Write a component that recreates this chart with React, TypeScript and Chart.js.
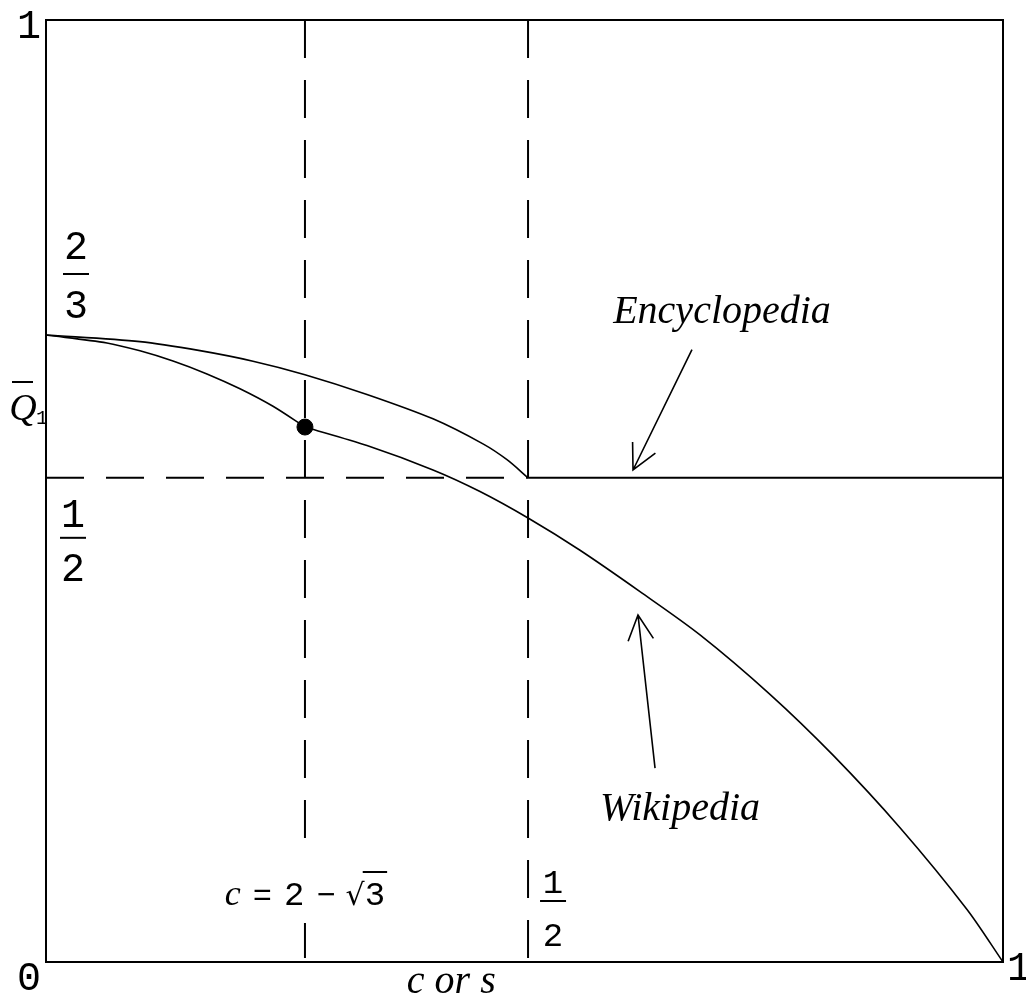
import { useEffect, useRef } from "react";
import { Chart, registerables } from "chart.js";

Chart.register(...registerables);

// ---- values (both axes run 0..1) ----
const cValue = 0.2706; // c = 2 - sqrt(3) marker line
const halfX = 0.5037; // x = 1/2 marker line
const halfY = 0.514; // y = 1/2 marker line
const dotY = 0.5679; // Wikipedia curve value at c

const encX = [0, 0.0982, 0.1609, 0.2163, 0.2706, 0.3354, 0.4044, 0.4566, 0.4817, 0.5037];
const encY = [0.6656, 0.6586, 0.649, 0.6378, 0.6235, 0.6025, 0.5766, 0.55, 0.5332, 0.514];
const encFlatX = [0.5037, 1];
const encFlatY = [0.514, 0.514];

const wikiLeftX = [0, 0.0637, 0.0982, 0.1327, 0.1682, 0.2027, 0.2372, 0.2706];
const wikiLeftY = [0.6656, 0.6572, 0.6488, 0.638, 0.6243, 0.6085, 0.5899, 0.5679];
const wikiRightX = [0.2706, 0.3354, 0.4044, 0.4535, 0.5037, 0.558, 0.6207, 0.6834, 0.7565, 0.8224, 0.8924, 0.9624, 1];
const wikiRightY = [0.5679, 0.5482, 0.5223, 0.4994, 0.4713, 0.4371, 0.3932, 0.3473, 0.2842, 0.2196, 0.1426, 0.0558, 0];

// annotation anchors (data units)
const seriesNames = ["Encyclopedia", "Wikipedia"];
const labelX = [0.7064, 0.6625];
const labelY = [0.6783, 0.1507];
const arrowTailX = [0.675, 0.6364];
const arrowTailY = [0.65, 0.2059];
const arrowHeadX = [0.6134, 0.6186];
const arrowHeadY = [0.5223, 0.3684];

// tick / axis labels
const cornerTicks = ["0", "1", "1"];
const fracTwoThirds = ["2", "3"];
const fracHalf = ["1", "2"];
const cLabelTokens = ["c", "=", "2", "\u2212", "\u221A", "3"];
const xAxisTitle = "c or s";
const yAxisTitle = "Q";
const yAxisSub = "1";

const DIGIT = "'Liberation Mono', 'DejaVu Sans Mono', monospace";
const ITAL = "italic 40px 'Liberation Serif', 'DejaVu Serif', serif";

const pts = (xs: number[], ys: number[]) => xs.map((x, i) => ({ x, y: ys[i] }));

const labelPlugin = {
  id: "labels",
  afterDatasetsDraw(chart: any) {
    const { ctx, chartArea } = chart;
    const sx = chart.scales.x;
    const sy = chart.scales.y;
    const { left, top, right, bottom } = chartArea;
    ctx.save();
    ctx.fillStyle = "#000";
    ctx.strokeStyle = "#000";

    // y axis title Q-bar with subscript
    ctx.font = "italic 38px 'Liberation Serif', serif";
    ctx.textAlign = "center";
    ctx.textBaseline = "alphabetic";
    ctx.fillText(yAxisTitle, left - 23, 420);
    ctx.lineWidth = 2;
    ctx.beginPath();
    ctx.moveTo(left - 34, 382);
    ctx.lineTo(left - 13, 382);
    ctx.stroke();
    ctx.font = "20px " + DIGIT;
    ctx.fillText(yAxisSub, left - 4, 424);

    // border
    ctx.lineWidth = 2;
    ctx.strokeRect(left, top, right - left, bottom - top);

    // corner ticks
    ctx.font = "40px " + DIGIT;
    ctx.textAlign = "center";
    ctx.textBaseline = "alphabetic";
    ctx.fillText(cornerTicks[0], left - 17, bottom + 28);
    ctx.fillText(cornerTicks[1], left - 17, top + 18);
    ctx.fillText(cornerTicks[2], right + 16, bottom + 18);

    const frac = (parts: string[], cx: number, bar: number, size: number, numOff: number, denOff: number, half: number) => {
      ctx.font = size + "px " + DIGIT;
      ctx.textAlign = "center";
      ctx.textBaseline = "alphabetic";
      ctx.fillText(parts[0], cx, bar - numOff);
      ctx.fillText(parts[1], cx, bar + denOff);
      ctx.lineWidth = 2;
      ctx.beginPath();
      ctx.moveTo(cx - half, bar);
      ctx.lineTo(cx + half, bar);
      ctx.stroke();
    };
    const yTwoThirds = sy.getPixelForValue(encY[0]);
    frac(fracTwoThirds, left + 30, yTwoThirds - 61, 40, 15, 44, 13);
    const yHalf = sy.getPixelForValue(halfY);
    frac(fracHalf, left + 27, yHalf + 60, 40, 11, 43, 13);
    const xHalf = sx.getPixelForValue(halfX);
    frac(fracHalf, xHalf + 25, bottom - 61, 34, 8, 45, 13);

    // c = 2 - sqrt3 label with white background
    const cx = sx.getPixelForValue(cValue);
    const base = bottom - 57;
    ctx.fillStyle = "#fff";
    ctx.fillRect(cx - 4, bottom - 109, 8, 70);
    ctx.fillStyle = "#000";
    ctx.textAlign = "left";
    const fonts = [
      "italic 36px 'Liberation Serif', serif",
      "32px " + DIGIT,
      "34px " + DIGIT,
      "32px " + DIGIT,
      "30px 'DejaVu Sans', sans-serif",
      "34px " + DIGIT,
    ];
    const gaps = [12, 12, 12, 10, 0, 0];
    const widths: number[] = [];
    cLabelTokens.forEach((t, i) => {
      ctx.font = fonts[i];
      widths.push(ctx.measureText(t).width);
    });
    const total = widths.reduce((a, b) => a + b, 0) + gaps.reduce((a, b) => a + b, 0);
    let px = cx - total / 2;
    let rootEnd = 0;
    cLabelTokens.forEach((t, i) => {
      ctx.font = fonts[i];
      ctx.fillText(t, px, base);
      px += widths[i];
      if (i === 4) rootEnd = px;
      px += gaps[i];
    });
    ctx.lineWidth = 2;
    ctx.beginPath();
    ctx.moveTo(rootEnd - 2, base - 33);
    ctx.lineTo(px + 2, base - 33);
    ctx.stroke();

    // x axis title
    ctx.font = ITAL;
    ctx.textAlign = "center";
    ctx.fillText(xAxisTitle, sx.getPixelForValue(0.4235), bottom + 31);

    // series names and arrows
    ctx.font = ITAL;
    seriesNames.forEach((name, i) => {
      ctx.fillText(name, sx.getPixelForValue(labelX[i]), sy.getPixelForValue(labelY[i]));
      const tx = sx.getPixelForValue(arrowTailX[i]);
      const ty = sy.getPixelForValue(arrowTailY[i]);
      const hx = sx.getPixelForValue(arrowHeadX[i]);
      const hy = sy.getPixelForValue(arrowHeadY[i]);
      ctx.lineWidth = 1.6;
      ctx.beginPath();
      ctx.moveTo(tx, ty);
      ctx.lineTo(hx, hy);
      const ang = Math.atan2(ty - hy, tx - hx);
      const L = 28;
      const a = (27 * Math.PI) / 180;
      ctx.moveTo(hx + L * Math.cos(ang - a), hy + L * Math.sin(ang - a));
      ctx.lineTo(hx, hy);
      ctx.lineTo(hx + L * Math.cos(ang + a), hy + L * Math.sin(ang + a));
      ctx.stroke();
    });
    ctx.restore();
  },
};

export default function App() {
  const ref = useRef<HTMLCanvasElement>(null);
  useEffect(() => {
    const canvas = ref.current!;
    const dashed = {
      borderColor: "#000",
      borderWidth: 2,
      borderDash: [38, 22],
      pointRadius: 0,
      tension: 0,
    };
    const curve = {
      borderColor: "#000",
      borderWidth: 1.6,
      pointRadius: 0,
      tension: 0.3,
    };
    const chart = new Chart(canvas, {
      type: "line",
      data: {
        datasets: [
          { ...dashed, data: [{ x: cValue, y: 1 }, { x: cValue, y: 0 }] },
          { ...dashed, data: [{ x: halfX, y: 1 }, { x: halfX, y: 0 }] },
          { ...dashed, data: [{ x: 0, y: halfY }, { x: halfX, y: halfY }] },
          { ...curve, label: seriesNames[0], data: pts(encX, encY) },
          { ...curve, borderWidth: 2, tension: 0, data: pts(encFlatX, encFlatY) },
          { ...curve, label: seriesNames[1], data: pts(wikiLeftX, wikiLeftY) },
          { ...curve, data: pts(wikiRightX, wikiRightY) },
          {
            type: "scatter",
            data: [{ x: cValue, y: dotY }],
            pointRadius: 8,
            backgroundColor: "#000",
            borderColor: "#000",
            showLine: false,
          } as any,
        ] as any,
      },
      options: {
        animation: false,
        responsive: false,
        events: [],
        layout: { padding: { left: 46, right: 23, top: 20, bottom: 40 } },
        scales: {
          x: { type: "linear", min: 0, max: 1, display: false },
          y: { type: "linear", min: 0, max: 1, display: false },
        },
        plugins: { legend: { display: false }, tooltip: { enabled: false } },
      },
      plugins: [labelPlugin],
    });
    return () => chart.destroy();
  }, []);
  return (
    <div style={{ position: "absolute", left: 0, top: 0, width: 1026, height: 1002, background: "#fff" }}>
      <canvas ref={ref} width={1026} height={1002} style={{ display: "block" }} />
    </div>
  );
}
